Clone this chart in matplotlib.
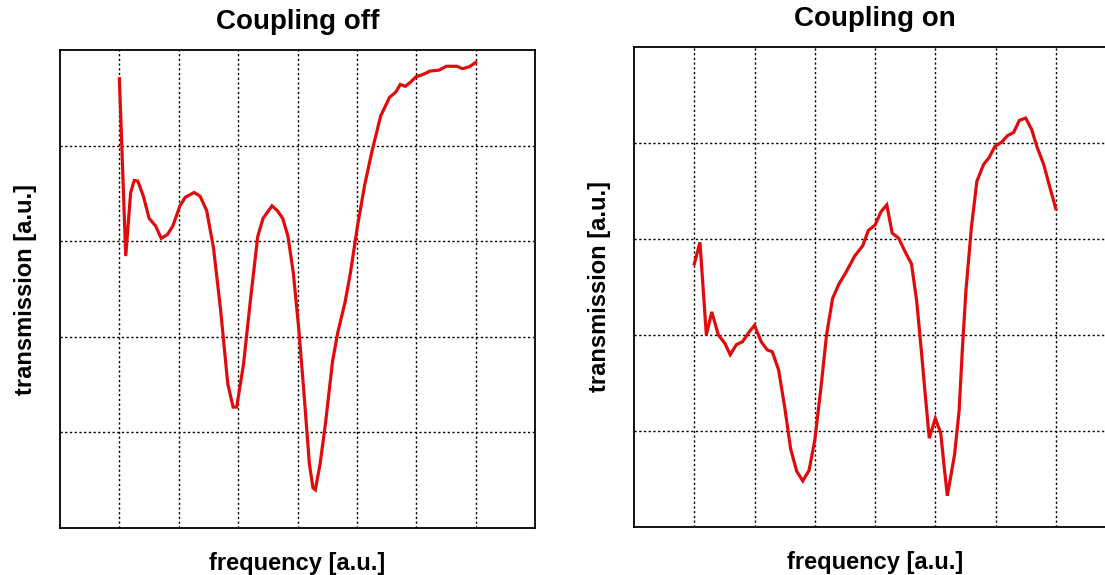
import numpy as np
import matplotlib.pyplot as plt

plt.rcParams['font.family'] = ['Liberation Sans', 'DejaVu Sans']

# transmission traces (arbitrary units), read on a 0..8 x 0..5 grid
freq_off = [1.0, 1.107, 1.19, 1.25, 1.31, 1.405, 1.50, 1.61, 1.705, 1.81, 1.90, 2.02, 2.11,
            2.26, 2.36, 2.47, 2.585, 2.705, 2.825, 2.915, 2.975, 3.09, 3.21, 3.33, 3.42,
            3.57, 3.66, 3.75, 3.84, 3.93, 4.02, 4.11, 4.20, 4.26, 4.30, 4.38, 4.47, 4.59,
            4.68, 4.80, 4.89, 5.01, 5.13, 5.25, 5.40, 5.55, 5.655, 5.73, 5.815, 5.905,
            5.995, 6.115, 6.235, 6.385, 6.505, 6.685, 6.775, 6.895, 7.0]
trans_off = [4.70, 2.845, 3.51, 3.635, 3.63, 3.47, 3.24, 3.16, 3.03, 3.07, 3.16, 3.37, 3.46,
             3.51, 3.47, 3.32, 2.93, 2.28, 1.51, 1.265, 1.265, 1.71, 2.40, 3.05, 3.24,
             3.37, 3.32, 3.24, 3.05, 2.665, 2.09, 1.40, 0.67, 0.42, 0.40, 0.67, 1.09, 1.745,
             2.05, 2.36, 2.665, 3.16, 3.585, 3.93, 4.31, 4.505, 4.56, 4.64, 4.62, 4.665,
             4.72, 4.745, 4.78, 4.79, 4.83, 4.83, 4.805, 4.825, 4.87]

freq_on = [1.0, 1.094, 1.20, 1.29, 1.40, 1.51, 1.595, 1.70, 1.80, 1.915, 2.0, 2.11, 2.21,
           2.295, 2.40, 2.50, 2.60, 2.70, 2.80, 2.905, 3.0, 3.10, 3.195, 3.295, 3.40,
           3.515, 3.66, 3.795, 3.89, 4.0, 4.10, 4.195, 4.285, 4.39, 4.505, 4.605, 4.69,
           4.77, 4.84, 4.90, 5.0, 5.09, 5.145, 5.20, 5.32, 5.395, 5.45, 5.51, 5.60, 5.69,
           5.80, 5.89, 5.99, 6.105, 6.195, 6.30, 6.395, 6.50, 6.60, 6.685, 6.80, 6.89, 7.0]
trans_on = [2.74, 2.965, 2.00, 2.24, 2.00, 1.91, 1.795, 1.90, 1.93, 2.035, 2.10, 1.93, 1.845,
            1.825, 1.635, 1.25, 0.81, 0.58, 0.48, 0.59, 0.905, 1.44, 2.00, 2.38, 2.53,
            2.65, 2.82, 2.93, 3.09, 3.145, 3.285, 3.355, 3.06, 3.01, 2.86, 2.74, 2.36,
            1.825, 1.33, 0.925, 1.13, 0.98, 0.64, 0.325, 0.755, 1.21, 1.86, 2.475, 3.125,
            3.60, 3.775, 3.845, 3.965, 4.01, 4.075, 4.11, 4.235, 4.26, 4.14, 3.965, 3.775,
            3.565, 3.315]

titles = ["Coupling off", "Coupling on"]

fig = plt.figure(figsize=(11.05, 5.75), dpi=100)
ax_off = fig.add_axes([0.0543, 0.0817, 0.4299, 0.8313])
ax_on = fig.add_axes([0.5738, 0.0835, 0.4362, 0.8348])

for ax, x, y, title in [(ax_off, freq_off, trans_off, titles[0]),
                        (ax_on, freq_on, trans_on, titles[1])]:
    ax.plot(x, y, color='#e00c0c', lw=2.3, solid_joinstyle='miter')
    ax.set_xlim(0, 8)
    ax.set_ylim(0, 5)
    ax.set_xticks(np.arange(1, 8))
    ax.set_yticks(np.arange(1, 5))
    ax.tick_params(length=0, labelleft=False, labelbottom=False)
    ax.grid(True, color='black', linestyle=(0, (1.6, 1.8)), linewidth=1.0)
    for s in ax.spines.values():
        s.set_linewidth(1.3)
    ax.set_title(title, fontsize=20, fontweight='bold', pad=15)
    ax.set_xlabel("frequency [a.u.]", fontsize=17, fontweight='bold', labelpad=17)
    ax.set_ylabel("transmission [a.u.]", fontsize=17, fontweight='bold', labelpad=16.5)

fig.savefig("out.png", dpi=100)
